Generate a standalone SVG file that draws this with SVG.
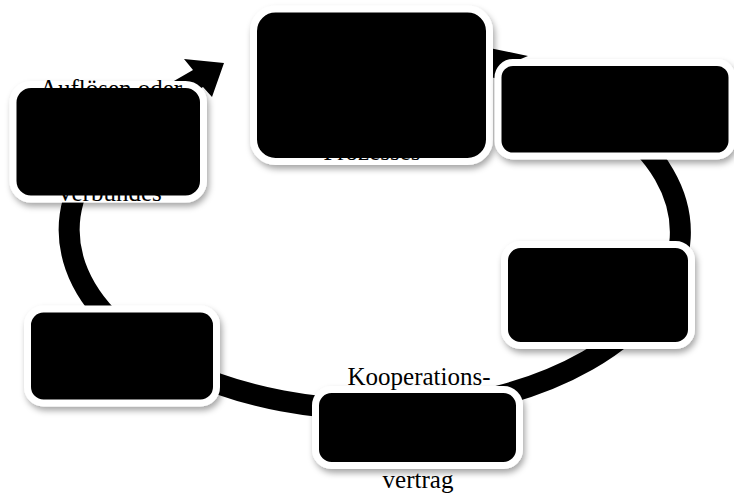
<svg xmlns="http://www.w3.org/2000/svg" width="734" height="495" viewBox="0 0 734 495">
<defs>
<filter id="sh" x="-10%" y="-10%" width="125%" height="130%">
<feDropShadow dx="2" dy="4" stdDeviation="3" flood-color="#000" flood-opacity="0.35"/>
</filter>
<style>
.box{fill:#000;stroke:#fff;stroke-width:7;filter:url(#sh)}
.ring{fill:none;stroke:#000;stroke-width:21}
.lbl{font-family:"Liberation Serif","DejaVu Serif",serif;font-size:25px;fill:#000;text-anchor:middle}
</style>
</defs>
<rect width="734" height="495" fill="#fff"/>
<g id="connectors">
<path class="ring" d="M300.2,56.8 A310,180 0 0 1 497.1,396.4 A310,180 0 0 1 180,92"/>
<polygon points="224,63 212,97 203,87 177,102 167,85 193,70 184,59" fill="#000"/>
<polygon points="470,44 528,56 480,76" fill="#000"/>
</g>
<g id="node-top">
<rect class="box" x="253.5" y="9" width="236" height="152.5" rx="22"/>
<text class="lbl" x="372" y="160">Prozesses</text>
</g>
<g id="node-right-top">
<rect class="box" x="498" y="62.5" width="234" height="93.5" rx="15"/>
</g>
<g id="node-right-middle">
<rect class="box" x="504.5" y="244.5" width="187" height="101" rx="16"/>
</g>
<g id="node-bottom">
<rect class="box" x="315.5" y="389.5" width="204" height="76" rx="16"/>
<text class="lbl" x="419" y="385">Kooperations-</text>
<text class="lbl" x="418" y="488">vertrag</text>
</g>
<g id="node-left-lower">
<rect class="box" x="27.5" y="309" width="189" height="94" rx="16"/>
</g>
<g id="node-left-upper">
<rect class="box" x="13" y="84.5" width="190.5" height="114.5" rx="18"/>
<text class="lbl" x="111" y="97">Auflösen oder</text>
<text class="lbl" x="109" y="201">Verbundes</text>
</g>
</svg>
